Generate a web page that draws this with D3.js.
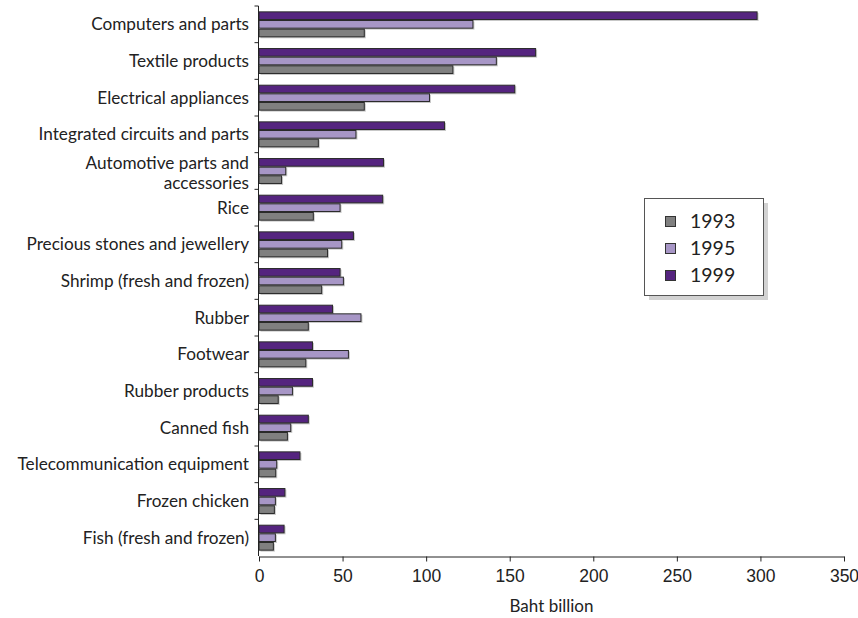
<!DOCTYPE html>
<html>
<head>
<meta charset="utf-8">
<script src="https://cdn.jsdelivr.net/npm/d3@7"></script>
<style>
  html, body { margin: 0; padding: 0; background: #fff; }
  svg { display: block; font-family: "Lato", "Open Sans", sans-serif; }
</style>
</head>
<body>
<svg id="chart" width="858" height="618"></svg>
<script>
// Thai export categories (Baht billion)
const categories = [
  "Computers and parts",
  "Textile products",
  "Electrical appliances",
  "Integrated circuits and parts",
  "Automotive parts and|accessories",
  "Rice",
  "Precious stones and jewellery",
  "Shrimp (fresh and frozen)",
  "Rubber",
  "Footwear",
  "Rubber products",
  "Canned fish",
  "Telecommunication equipment",
  "Frozen chicken",
  "Fish (fresh and frozen)"
];
const years = ["1993", "1995", "1999"];
const values1993 = [63, 116, 63, 35.5, 13.5, 32.5, 41, 37.5, 29.5, 28, 11.5, 17, 10, 9.2, 8.6];
const values1995 = [128, 142, 102, 58, 16, 48.5, 49.5, 50.5, 61, 53.5, 20, 19, 10.6, 9.8, 9.8];
const values1999 = [298, 165.5, 153, 111, 74.5, 74, 56.5, 48.5, 44, 32, 32, 29.5, 24.5, 15.5, 15];
const xTicks = [0, 50, 100, 150, 200, 250, 300, 350];

const seriesValues = { "1993": values1993, "1995": values1995, "1999": values1999 };
const colors = { "1993": "#808080", "1995": "#a796c6", "1999": "#55247f" };

const svg = d3.select("#chart");
const margin = { left: 259, right: 14, top: 6, bottom: 62 };
const W = 858, H = 618;

const x = d3.scaleLinear().domain([0, 350]).range([margin.left, W - margin.right]);
const y = d3.scaleBand().domain(categories).range([margin.top, H - margin.bottom]).padding(0);
// bars drawn top-to-bottom: 1999, 1995, 1993
const ySub = d3.scaleBand().domain(["1999", "1995", "1993"]).range([0, y.bandwidth()])
  .paddingInner(0).paddingOuter(0.62);

const rows = categories.map((c, i) => ({
  cat: c,
  bars: years.map(yr => ({ year: yr, value: seriesValues[yr][i] }))
}));

const groups = svg.append("g").selectAll("g").data(rows).join("g")
  .attr("transform", d => `translate(0,${y(d.cat)})`);

// soft drop shadow behind each bar
groups.selectAll("rect.shadow").data(d => d.bars).join("rect")
  .attr("class", "shadow")
  .attr("x", x(0) + 1.5)
  .attr("y", d => ySub(d.year) + 1.5)
  .attr("width", d => x(d.value) - x(0))
  .attr("height", ySub.bandwidth() - 0.5)
  .attr("fill", "#c9c9c9");

groups.selectAll("rect.bar").data(d => d.bars).join("rect")
  .attr("class", "bar")
  .attr("x", x(0))
  .attr("y", d => ySub(d.year) + 0.5)
  .attr("width", d => x(d.value) - x(0))
  .attr("height", ySub.bandwidth() - 1)
  .attr("fill", d => colors[d.year])
  .attr("stroke", "#2a2a2a")
  .attr("stroke-width", 1);

// x axis
const xAxis = svg.append("g")
  .attr("transform", `translate(0,${H - margin.bottom + 0.5})`)
  .call(d3.axisBottom(x).tickValues(xTicks).tickSize(5).tickPadding(8).tickSizeOuter(0));
xAxis.select(".domain").attr("stroke", "#222");
xAxis.selectAll(".tick line").attr("stroke", "#222");
xAxis.selectAll("text").attr("font-size", 17.5).attr("fill", "#222");

svg.append("text")
  .attr("x", (x(0) + x(350)) / 2)
  .attr("y", 612)
  .attr("text-anchor", "middle")
  .attr("font-size", 17)
  .attr("fill", "#222")
  .text("Baht billion");

// y axis: ticks at category boundaries
const yAxisG = svg.append("g").attr("transform", `translate(${x(0) - 0.5},0)`);
yAxisG.append("line")
  .attr("x1", 0).attr("x2", 0)
  .attr("y1", y.range()[0]).attr("y2", y.range()[1])
  .attr("stroke", "#222");
const bounds = categories.map(c => y(c));
yAxisG.selectAll("line.tick").data(bounds).join("line")
  .attr("class", "tick")
  .attr("x1", -4).attr("x2", 0)
  .attr("y1", d => d).attr("y2", d => d)
  .attr("stroke", "#222");

// category labels (a "|" marks a line break)
const labelG = svg.append("g");
categories.forEach(c => {
  const parts = c.split("|");
  const lh = 20.8;
  const mid = y(c) + y.bandwidth() / 2 + (parts.length > 1 ? 2 : 0);
  parts.forEach((p, i) => {
    labelG.append("text")
      .attr("text-anchor", "end")
      .attr("font-size", 17.2)
      .attr("fill", "#222")
      .attr("x", x(0) - 10)
      .attr("y", mid + (i - (parts.length - 1) / 2) * lh)
      .attr("dy", "0.35em")
      .text(p);
  });
});

// legend
const lg = svg.append("g").attr("transform", "translate(644,198)");
lg.append("rect").attr("x", 5).attr("y", 5).attr("width", 119).attr("height", 97).attr("fill", "#d2d2d2");
lg.append("rect").attr("x", 0.5).attr("y", 0.5).attr("width", 119).attr("height", 97)
  .attr("fill", "#fff").attr("stroke", "#555").attr("stroke-width", 1);
years.forEach((yr, i) => {
  const cy = 23.5 + i * 27;
  lg.append("rect").attr("x", 21.5).attr("y", cy - 5).attr("width", 10).attr("height", 10)
    .attr("fill", colors[yr]).attr("stroke", "#333").attr("stroke-width", 1);
  lg.append("text").attr("x", 46).attr("y", cy).attr("dy", "0.35em")
    .attr("font-size", 19.5).attr("fill", "#222").text(yr);
});
</script>
</body>
</html>
